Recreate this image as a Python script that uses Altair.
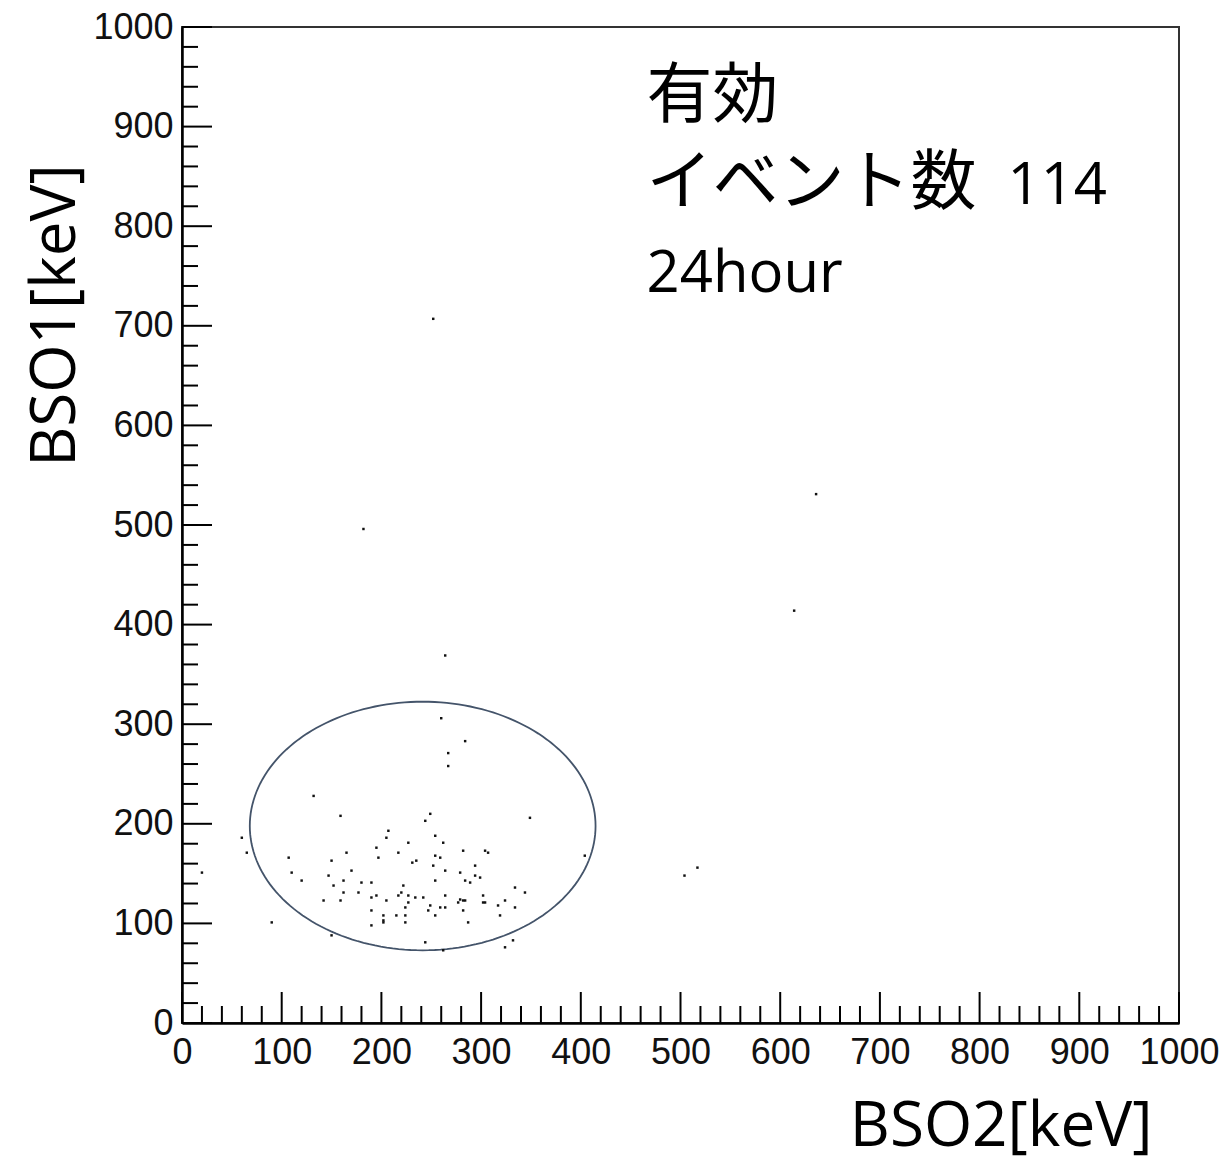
import altair as alt
import pandas as pd

# Event data (BSO2 on x, BSO1 on y, keV)
bso2 = [260, 267, 267, 132, 159, 249, 244, 60, 207, 205, 254, 227, 262, 65, 195,
        217, 254, 259, 107, 165, 197, 150, 231, 235, 252, 20, 110, 170, 264, 147,
        120, 162, 254, 152, 180, 190, 222, 162, 177, 217, 220, 195, 227, 264, 190,
        234, 242, 142, 159, 205, 227, 249, 259, 264, 224, 190, 247, 202, 215, 224,
        254, 202, 202, 90, 190, 224, 150, 244, 262,
        284, 349, 282, 304, 307, 294, 404, 279, 294, 299, 284, 289, 334, 344, 302,
        279, 282, 284, 277, 302, 304, 324, 317, 334, 282, 319, 287, 332, 324,
        252, 182, 264, 636, 614, 504, 517]
bso1 = [306, 271, 258, 228, 208, 210, 203, 186, 193, 186, 188, 181, 181, 171, 176,
        171, 168, 166, 166, 171, 166, 163, 161, 163, 158, 151, 151, 153, 153, 148,
        143, 143, 143, 138, 141, 141, 138, 131, 131, 128, 131, 128, 128, 128, 126,
        126, 126, 123, 123, 123, 121, 118, 116, 116, 116, 113, 113, 108, 108, 108,
        108, 103, 101, 101, 98, 101, 88, 81, 73,
        283, 206, 173, 173, 171, 158, 168, 151, 148, 146, 143, 141, 136, 131, 128,
        124, 123, 123, 121, 121, 121, 123, 118, 116, 113, 108, 101, 83, 76,
        707, 496, 369, 531, 414, 148, 156]

major_ticks = [0, 100, 200, 300, 400, 500, 600, 700, 800, 900, 1000]
minor_ticks = [v for v in range(20, 1000, 20) if v % 100 != 0]

# Annotation text (data coordinates)
cjk_text = ["有効", "イベント数"]
cjk_x = [466, 466]
cjk_y = [910, 822]
lat_text = ["114", "24hour"]
lat_x = [828, 466]
lat_y = [822, 734]

# Ellipse annotation (center / radii in data units)
ell_cx, ell_cy, ell_rx, ell_ry = 241.4, 197.8, 173.4, 124.8

W, H = 997, 996

df = pd.DataFrame({"bso2": bso2, "bso1": bso1})
xscale = alt.Scale(domain=[0, 1000], nice=False, zero=False)
yscale = alt.Scale(domain=[0, 1000], nice=False, zero=False)

xaxis = alt.Axis(values=major_ticks, ticks=False, tickSize=0, grid=False,
                 domainColor="black", domainWidth=2.5, labelFont="Liberation Sans",
                 labelFontSize=36, labelColor="#111111", labelPadding=12,
                 labelFlush=False, labelOverlap=False, format="d",
                 title="BSO2[keV]", titleFont="Open Sans", titleFontSize=62,
                 titleFontWeight="normal", titleColor="black", titleAlign="right",
                 titleX=970, titleY=122, titleBaseline="alphabetic")
yaxis = alt.Axis(values=major_ticks, ticks=False, tickSize=0, grid=False,
                 domainColor="black", domainWidth=2.5, labelFont="Liberation Sans",
                 labelFontSize=36, labelColor="#111111", labelPadding=9,
                 labelFlush=False, labelOverlap=False, format="d",
                 title="BSO1[keV]", titleFont="Open Sans", titleFontSize=62,
                 titleFontWeight="normal", titleColor="black", titleAngle=270,
                 titleAlign="center", titleX=-108, titleY=288,
                 titleBaseline="alphabetic")


def X(field):
    return alt.X(field, type="quantitative", scale=xscale, axis=xaxis)


def Y(field):
    return alt.Y(field, type="quantitative", scale=yscale, axis=yaxis)


points = alt.Chart(df).mark_square(size=6, color="#111111", opacity=1).encode(
    x=X("bso2"), y=Y("bso1"))

ellipse = alt.Chart(alt.sequence(0, 361, 2, as_="t")).transform_calculate(
    ex=f"{ell_cx} + {ell_rx} * cos(datum.t * PI / 180)",
    ey=f"{ell_cy} + {ell_ry} * sin(datum.t * PI / 180)",
).mark_line(color="#44546A", strokeWidth=1.8).encode(
    x=X("ex"), y=Y("ey"), order="t:Q")

ymaj = alt.Chart(pd.DataFrame({"v": major_ticks})).mark_rule(
    color="black", strokeWidth=2).encode(y=Y("v"), x=alt.value(0), x2=alt.value(30))
ymin = alt.Chart(pd.DataFrame({"v": minor_ticks})).mark_rule(
    color="black", strokeWidth=2).encode(y=Y("v"), x=alt.value(0), x2=alt.value(16))
xmaj = alt.Chart(pd.DataFrame({"v": major_ticks})).mark_rule(
    color="black", strokeWidth=2).encode(x=X("v"), y=alt.value(H), y2=alt.value(H - 31))
xmin = alt.Chart(pd.DataFrame({"v": minor_ticks})).mark_rule(
    color="black", strokeWidth=2).encode(x=X("v"), y=alt.value(H), y2=alt.value(H - 17))

cjk = alt.Chart(pd.DataFrame({"x": cjk_x, "y": cjk_y, "t": cjk_text})).mark_text(
    font="Noto Sans CJK JP", fontSize=66, align="left", baseline="alphabetic",
    color="black").encode(x=X("x"), y=Y("y"), text="t:N")
lat = alt.Chart(pd.DataFrame({"x": lat_x, "y": lat_y, "t": lat_text})).mark_text(
    font="Open Sans", fontSize=58, align="left", baseline="alphabetic",
    color="black").encode(x=X("x"), y=Y("y"), text="t:N")

chart = alt.layer(ellipse, points, ymaj, ymin, xmaj, xmin, cjk, lat).properties(
    width=W, height=H, autosize="none",
    padding={"left": 182, "top": 27, "right": 48, "bottom": 142},
    background="white",
).configure_view(stroke="#333333", strokeWidth=2)

chart.save("out.html", embed_options={"renderer": "svg", "actions": False})
